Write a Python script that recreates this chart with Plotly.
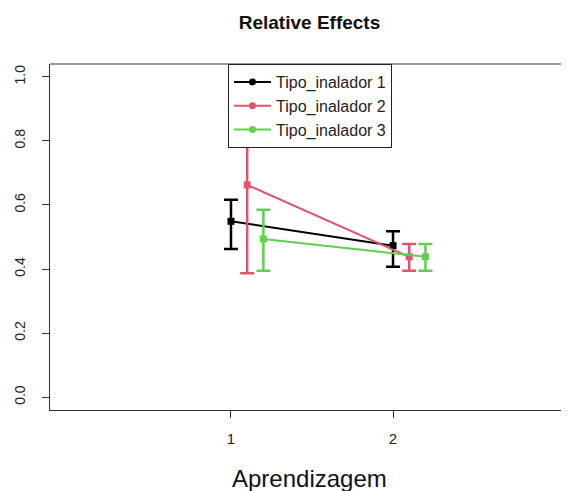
import plotly.graph_objects as go

# ---- data ----
groups = ["Tipo_inalador 1", "Tipo_inalador 2", "Tipo_inalador 3"]
colors = ["#000000", "#DF536B", "#61D04F"]
time_levels = [1, 2]
offsets = [0.0, 0.1, 0.2]
estimates = [
    [0.549, 0.473],
    [0.6625, 0.438],
    [0.494, 0.438],
]
lower = [
    [0.4625, 0.407],
    [0.387, 0.395],
    [0.395, 0.395],
]
upper = [
    [0.616, 0.518],
    [0.94, 0.478],
    [0.585, 0.478],
]
y_ticks = [0.0, 0.2, 0.4, 0.6, 0.8, 1.0]
y_tick_labels = ["0.0", "0.2", "0.4", "0.6", "0.8", "1.0"]

fig = go.Figure()
for g, name in enumerate(groups):
    xs = [t + offsets[g] for t in time_levels]
    ys = estimates[g]
    plus = [u - e for u, e in zip(upper[g], ys)]
    minus = [e - l for e, l in zip(ys, lower[g])]
    fig.add_trace(go.Scatter(
        x=xs, y=ys, mode="lines+markers", showlegend=False,
        line=dict(color=colors[g], width=2),
        marker=dict(symbol="square", size=7, color=colors[g]),
        error_y=dict(type="data", array=plus, arrayminus=minus,
                     color=colors[g], thickness=2.5, width=7),
    ))
for g, name in enumerate(groups):
    fig.add_trace(go.Scatter(
        x=[None], y=[None], mode="lines+markers", name=name,
        line=dict(color=colors[g], width=2),
        marker=dict(symbol="circle", size=7, color=colors[g]),
    ))

font_family = "Liberation Sans, Arial, sans-serif"
W, H = 561, 483          # page body has an 8px margin
L, T, B = 42, 56, 81
plot_h = H - T - B
fig.update_layout(
    width=W, height=H,
    margin=dict(l=L, r=0, t=T, b=B),
    paper_bgcolor="white", plot_bgcolor="white",
    font=dict(family=font_family, color="#222"),
    title=dict(text="<b>Relative Effects</b>", x=(L + 519 / 2) / W,
               xanchor="center", y=1 - 14 / H, yanchor="middle",
               yref="container", font=dict(size=19, color="#111")),
    legend=dict(x=0.343, y=1.0, xanchor="left", yanchor="top",
                bgcolor="white", bordercolor="#222", borderwidth=1,
                font=dict(size=16, color="#222"), tracegroupgap=0,
                itemwidth=37),
    xaxis=dict(range=[-0.117, 3.086], tickvals=time_levels,
               ticktext=[str(t) for t in time_levels],
               showgrid=False, zeroline=False, showline=True,
               linecolor="#333", linewidth=1, ticks="outside", ticklen=7,
               tickcolor="#333", tickfont=dict(size=15, color="#222"),
               ticklabelstandoff=8),
    yaxis=dict(range=[-0.04, 1.04], tickvals=y_ticks, ticktext=y_tick_labels,
               showgrid=False, zeroline=False, showline=True,
               linecolor="#333", linewidth=1, ticks="outside", ticklen=7,
               tickcolor="#333", tickangle=-90,
               tickfont=dict(size=14, color="#222"), ticklabelstandoff=11),
    shapes=[dict(type="line", xref="paper", yref="paper", x0=0, x1=1,
                 y0=1, y1=1, line=dict(color="#333", width=1))],
    annotations=[dict(text="Aprendizagem", xref="paper", yref="paper",
                      x=0.5, y=-68 / plot_h, xanchor="center",
                      yanchor="middle", showarrow=False,
                      font=dict(size=24, color="#111"))],
)

fig.write_html("out.html")
